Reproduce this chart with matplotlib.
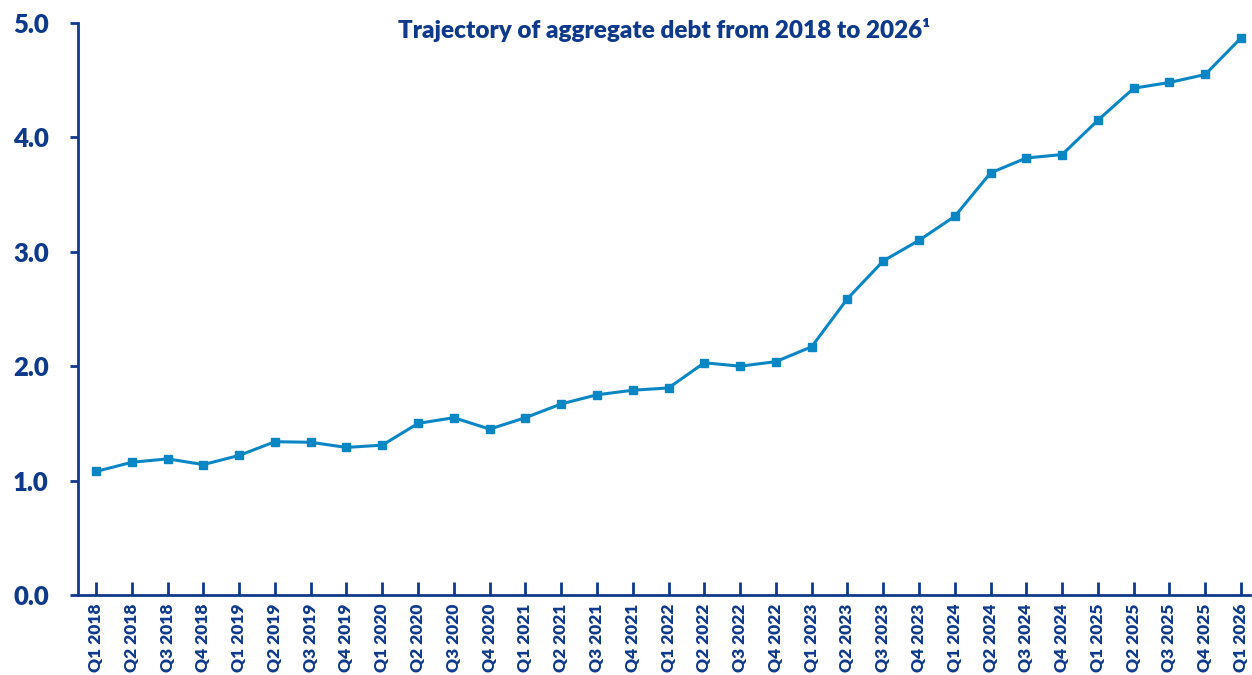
import matplotlib
matplotlib.use("Agg")
import matplotlib.pyplot as plt

plt.rcParams['font.family'] = ['Lato', 'DejaVu Sans']

quarters = ["Q1 2018", "Q2 2018", "Q3 2018", "Q4 2018",
            "Q1 2019", "Q2 2019", "Q3 2019", "Q4 2019",
            "Q1 2020", "Q2 2020", "Q3 2020", "Q4 2020",
            "Q1 2021", "Q2 2021", "Q3 2021", "Q4 2021",
            "Q1 2022", "Q2 2022", "Q3 2022", "Q4 2022",
            "Q1 2023", "Q2 2023", "Q3 2023", "Q4 2023",
            "Q1 2024", "Q2 2024", "Q3 2024", "Q4 2024",
            "Q1 2025", "Q2 2025", "Q3 2025", "Q4 2025",
            "Q1 2026"]
debt = [1.08, 1.16, 1.19, 1.14,
        1.22, 1.34, 1.335, 1.29,
        1.31, 1.50, 1.55, 1.45,
        1.55, 1.67, 1.75, 1.79,
        1.81, 2.03, 2.00, 2.04,
        2.17, 2.59, 2.92, 3.10,
        3.31, 3.69, 3.82, 3.85,
        4.15, 4.43, 4.48, 4.55,
        4.87]
yticks = [0, 1, 2, 3, 4, 5]

navy = '#0f3a8c'
line_col = '#0a86c4'

fig = plt.figure(figsize=(12.52, 6.75), dpi=100)
ax = fig.add_axes([78/1252, 1-595/675, (1250-78)/1252, (595-23)/675])

x = list(range(len(debt)))
ax.plot(x, debt, color=line_col, lw=2.2, marker='s', markersize=5.8, clip_on=False)

ax.set_ylim(0, 5)
ax.set_xlim(-0.503, 32.25)
ax.set_yticks(yticks)
ax.set_yticklabels([f"{v:.1f}" for v in yticks], fontsize=18.5, fontweight='heavy', color=navy)
ax.set_xticks(x)
ax.set_xticklabels(quarters, rotation=90, fontsize=12.5, fontweight='heavy', color=navy)

for s in ['top', 'right']:
    ax.spines[s].set_visible(False)
for s in ['left', 'bottom']:
    ax.spines[s].set_color(navy)
    ax.spines[s].set_linewidth(2)

ax.tick_params(axis='y', direction='out', length=6, width=2, color=navy, pad=15)
ax.tick_params(axis='x', direction='in', length=9.5, width=2, color=navy, pad=6)

ax.text(0.5, 1.008, "Trajectory of aggregate debt from 2018 to 2026\u00b9",
        transform=ax.transAxes, ha='center', va='top',
        fontsize=17.5, fontweight='heavy', color=navy)

fig.savefig("out.png", dpi=100)
